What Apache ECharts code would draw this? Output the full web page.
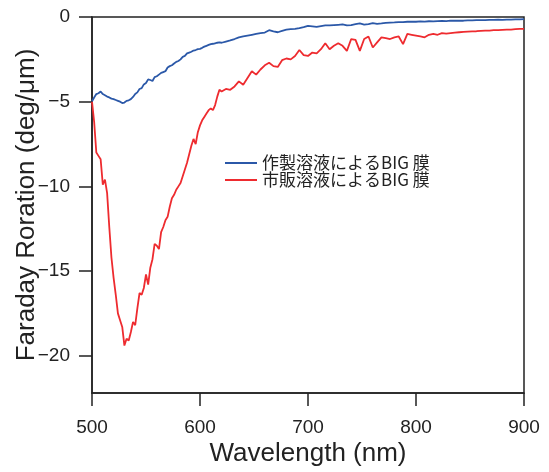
<!DOCTYPE html>
<html>
<head>
<meta charset="utf-8">
<script src="https://cdn.jsdelivr.net/npm/echarts@6/dist/echarts.min.js"></script>
<style>html,body{margin:0;padding:0;background:#fff;}#c{width:549px;height:472px;}</style>
</head>
<body>
<div id="c"></div>
<script>
// Wavelength (nm): step 2 from 500 to 620, then step 4 to 900
const wavelengths = [
 500,502,504,506,508,510,512,514,516,518,520,522,524,526,528,530,532,534,536,538,
 540,542,544,546,548,550,552,554,556,558,560,562,564,566,568,570,572,574,576,578,
 580,582,584,586,588,590,592,594,596,598,600,602,604,606,608,610,612,614,616,618,620,
 624,628,632,636,640,644,648,652,656,660,664,668,672,676,680,684,688,692,696,700,
 704,708,712,716,720,724,728,732,736,740,744,748,752,756,760,764,768,772,776,780,
 784,788,792,796,800,804,808,812,816,820,824,828,832,836,840,844,848,852,856,860,
 864,868,872,876,880,884,888,892,896,900
];
// 作製溶液によるBIG 膜 (blue)
const madeBIG = [
 -4.98,-4.75,-4.55,-4.5,-4.4,-4.55,-4.62,-4.7,-4.75,-4.82,-4.85,-4.9,-4.95,-5.0,-5.08,-5.05,-4.95,-4.92,-4.85,-4.72,
 -4.55,-4.45,-4.25,-4.2,-3.98,-3.9,-3.68,-3.72,-3.78,-3.55,-3.5,-3.4,-3.3,-3.25,-3.2,-2.98,-2.9,-2.85,-2.75,-2.65,
 -2.6,-2.5,-2.35,-2.3,-2.15,-2.1,-2.05,-1.98,-1.95,-1.9,-1.88,-1.82,-1.75,-1.7,-1.65,-1.6,-1.58,-1.55,-1.52,-1.5,-1.52,
 -1.45,-1.38,-1.3,-1.2,-1.15,-1.1,-1.05,-1.0,-0.95,-0.92,-0.78,-0.85,-0.9,-0.82,-0.75,-0.72,-0.7,-0.66,-0.6,-0.52,
 -0.55,-0.58,-0.54,-0.5,-0.5,-0.48,-0.46,-0.44,-0.5,-0.48,-0.42,-0.38,-0.45,-0.42,-0.36,-0.4,-0.38,-0.35,-0.33,-0.32,
 -0.3,-0.3,-0.28,-0.27,-0.28,-0.26,-0.27,-0.25,-0.26,-0.24,-0.23,-0.24,-0.22,-0.22,-0.21,-0.22,-0.2,-0.2,-0.19,-0.18,
 -0.19,-0.17,-0.17,-0.16,-0.17,-0.15,-0.15,-0.14,-0.14,-0.13
];
// 市販溶液によるBIG 膜 (red)
const commercialBIG = [
 -5.0,-6.2,-8.0,-8.2,-8.4,-9.9,-9.6,-10.4,-12.4,-14.2,-15.4,-16.4,-17.5,-17.9,-18.3,-19.4,-19.0,-19.1,-18.6,-18.0,
 -18.2,-17.2,-16.3,-16.4,-16.0,-15.2,-15.8,-14.8,-14.3,-13.4,-13.5,-13.7,-12.7,-12.4,-12.0,-11.8,-11.2,-10.7,-10.5,-10.2,
 -10.0,-9.8,-9.4,-9.0,-8.6,-8.1,-7.6,-7.2,-7.5,-6.8,-6.4,-6.1,-5.9,-5.7,-5.5,-5.4,-5.5,-5.2,-4.7,-4.3,-4.4,
 -4.25,-4.3,-4.1,-3.8,-4.0,-3.6,-3.2,-3.4,-3.1,-2.85,-2.7,-2.9,-2.95,-2.55,-2.45,-2.5,-2.3,-1.95,-2.25,-2.3,
 -2.1,-2.15,-1.9,-1.55,-1.9,-1.7,-1.55,-1.7,-2.0,-1.3,-1.35,-2.0,-1.3,-1.15,-1.8,-1.5,-1.2,-1.25,-1.3,-1.2,
 -1.15,-1.6,-1.0,-1.05,-1.1,-1.15,-1.2,-1.05,-1.0,-1.05,-0.95,-0.98,-0.95,-0.92,-0.9,-0.88,-0.86,-0.85,-0.84,-0.82,
 -0.8,-0.8,-0.78,-0.77,-0.76,-0.75,-0.74,-0.72,-0.7,-0.7
];
const xTicks = [500,600,700,800,900];
const yTicks = [-20,-15,-10,-5,0];
const seriesNames = ['作製溶液によるBIG 膜','市販溶液によるBIG 膜'];

const pair = (ys) => wavelengths.map((x,i)=>[x, ys[i]]);
const axisColor = '#222';
const fmt = v => String(v).replace('-', '\u2212');

const chart = echarts.init(document.getElementById('c'), null, {renderer:'canvas'});
chart.setOption({
  animation:false,
  backgroundColor:'#fff',
  textStyle:{fontFamily:'Liberation Sans, Arial, sans-serif'},
  grid:{left:92, right:25, top:17, bottom:73, containLabel:false,
        show:true, borderColor:axisColor, borderWidth:1.5, backgroundColor:'transparent'},
  legend:{
    orient:'vertical', left:220, top:149, itemWidth:32, itemHeight:2, itemGap:-1, icon:'rect',
    data:seriesNames,
    textStyle:{fontFamily:'Noto Sans CJK JP, sans-serif', fontSize:17, lineHeight:18, color:'#222', padding:[0,0,0,0]}
  },
  xAxis:{
    type:'value', min:500, max:900, interval:100, position:'bottom',
    name:'Wavelength (nm)', nameLocation:'middle', nameGap:48, nameMoveOverlap:false,
    nameTextStyle:{fontSize:26, color:'#222'},
    axisLine:{show:true, onZero:false, lineStyle:{color:axisColor, width:1.5}},
    axisTick:{show:true, inside:false, length:13, lineStyle:{color:axisColor, width:1.5}},
    axisLabel:{fontSize:19, color:'#222', margin:25},
    splitLine:{show:false}
  },
  yAxis:{
    type:'value', min:-22.2, max:0,
    name:'Faraday Roration (deg/\u03bcm)', nameLocation:'middle', nameGap:52, nameMoveOverlap:false,
    nameTextStyle:{fontSize:26, color:'#222'},
    axisLine:{show:true, onZero:false, lineStyle:{color:axisColor, width:1.5}},
    axisTick:{show:true, inside:false, length:13, lineStyle:{color:axisColor, width:1.5}, customValues:yTicks},
    axisLabel:{fontSize:19, color:'#222', margin:22, customValues:yTicks, formatter:fmt},
    splitLine:{show:false}
  },
  series:[
    {name:seriesNames[0], type:'line', data:pair(madeBIG), symbol:'none', showSymbol:false,
     lineStyle:{color:'#2b58a8', width:1.8}, itemStyle:{color:'#2b58a8'}, z:3},
    {name:seriesNames[1], type:'line', data:pair(commercialBIG), symbol:'none', showSymbol:false,
     lineStyle:{color:'#ee2b2f', width:1.8}, itemStyle:{color:'#ee2b2f'}, z:2}
  ]
});
</script>
</body>
</html>
